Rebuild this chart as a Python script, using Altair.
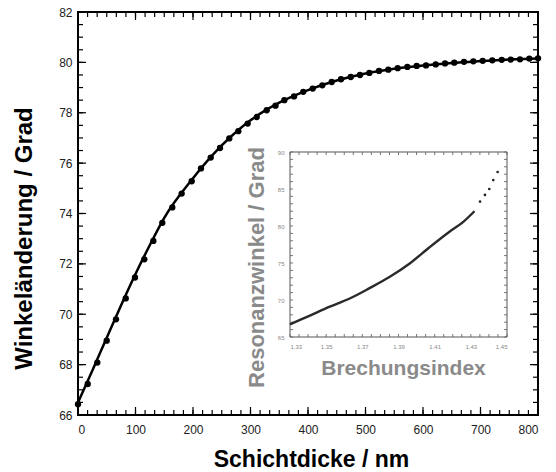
import altair as alt
import pandas as pd

# ---------------- data ----------------
thickness_nm = [0, 16.9, 33.6, 49.9, 66.1, 83.0, 99.1, 115.3, 131.0, 146.6,
                164.0, 180.3, 197.7, 213.9, 230.8, 247.0, 263.1, 278.8, 295.1, 310.8,
                328.2, 343.5, 358.8, 375.7, 391.8, 408.2, 424.9, 441.2, 457.4, 474.3,
                490.4, 506.6, 523.5, 539.7, 556.0, 572.7, 589.0, 605.2, 622.1, 638.3,
                654.4, 671.3, 687.5, 703.8, 720.5, 736.9, 752.5, 768.7, 784.9, 800.0]
angle_deg = [66.43, 67.23, 68.08, 68.95, 69.80, 70.63, 71.46, 72.18, 72.91, 73.63,
             74.24, 74.79, 75.28, 75.79, 76.22, 76.60, 76.98, 77.27, 77.57, 77.83,
             78.10, 78.28, 78.50, 78.65, 78.83, 78.96, 79.09, 79.22, 79.33, 79.42,
             79.50, 79.58, 79.66, 79.71, 79.77, 79.82, 79.86, 79.88, 79.92, 79.96,
             79.99, 80.02, 80.04, 80.06, 80.08, 80.10, 80.11, 80.12, 80.15, 80.16]

fit_nm = [0, 25, 50, 75, 100, 125, 150, 200, 250, 300, 350, 400, 450, 500,
          550, 600, 650, 700, 750, 800]
fit_deg = [66.5, 67.77, 69.07, 70.36, 71.6, 72.75, 73.83, 75.4, 76.7, 77.7, 78.4,
           78.9, 79.28, 79.56, 79.75, 79.88, 79.98, 80.05, 80.11, 80.15]

inset_index = [1.330, 1.341, 1.352, 1.363, 1.374, 1.385, 1.396, 1.407, 1.418, 1.426, 1.432]
inset_angle = [66.7, 67.9, 69.1, 70.2, 71.6, 73.1, 74.9, 77.1, 79.2, 80.6, 82.0]
inset_index_pts = [1.4351, 1.4378, 1.4402, 1.4424, 1.4448]
inset_angle_pts = [83.3, 84.2, 85.0, 86.2, 87.3]

X_DOMAIN = [0, 800]
Y_DOMAIN = [66, 82]
IX_DOMAIN = [1.33, 1.45]
IY_DOMAIN = [65, 90]

x_major = list(range(0, 801, 100))
x_minor = [round(i * 100 / 6, 3) for i in range(49)]
y_major = list(range(66, 83, 2))
y_minor = [66 + 0.5 * i for i in range(33)]
ix_ticks = [round(1.33 + 0.005 * i, 3) for i in range(25)]
iy_ticks = list(range(65, 91))

# ---------------- layout ----------------
W, H = 460, 403
INSET_X_RANGE = [212, 429]
INSET_Y_RANGE = [325, 140]
FONT = "Liberation Sans"
GREY = "#8a8a8a"


def xs():
    return alt.Scale(domain=X_DOMAIN, nice=False, zero=False)


def ys():
    return alt.Scale(domain=Y_DOMAIN, nice=False, zero=False)


def ixs():
    return alt.Scale(domain=IX_DOMAIN, range=INSET_X_RANGE, nice=False, zero=False)


def iys():
    return alt.Scale(domain=IY_DOMAIN, range=INSET_Y_RANGE, nice=False, zero=False)


def edge_rules(values, edge, length_px, xsf, ysf, xdom, ydom, xpx, ypx,
               color="black", width=1.2):
    """Short inward tick rules along one frame edge, drawn through the scales."""
    n = len(values)
    dy = length_px * (ydom[1] - ydom[0]) / ypx
    dx = length_px * (xdom[1] - xdom[0]) / xpx
    if edge in ("bottom", "top"):
        y0 = ydom[0] if edge == "bottom" else ydom[1]
        y1 = y0 + dy if edge == "bottom" else y0 - dy
        df = pd.DataFrame({"x": values, "y": [y0] * n, "y2": [y1] * n})
        return alt.Chart(df).mark_rule(color=color, strokeWidth=width).encode(
            x=alt.X("x:Q", scale=xsf(), axis=None),
            y=alt.Y("y:Q", scale=ysf(), axis=None), y2="y2:Q")
    x0 = xdom[0] if edge == "left" else xdom[1]
    x1 = x0 + dx if edge == "left" else x0 - dx
    df = pd.DataFrame({"x": [x0] * n, "x2": [x1] * n, "y": values})
    return alt.Chart(df).mark_rule(color=color, strokeWidth=width).encode(
        x=alt.X("x:Q", scale=xsf(), axis=None), x2="x2:Q",
        y=alt.Y("y:Q", scale=ysf(), axis=None))


fit_df = pd.DataFrame({"d": fit_nm, "w": fit_deg})
pts_df = pd.DataFrame({"d": thickness_nm, "w": angle_deg})
frame_df = pd.DataFrame({"x": [X_DOMAIN[0]], "x2": [X_DOMAIN[1]],
                         "y": [Y_DOMAIN[0]], "y2": [Y_DOMAIN[1]]})
iframe_df = pd.DataFrame({"x": [IX_DOMAIN[0]], "x2": [IX_DOMAIN[1]],
                          "y": [IY_DOMAIN[0]], "y2": [IY_DOMAIN[1]]})
inset_df = pd.DataFrame({"n": inset_index, "a": inset_angle})
inset_pts_df = pd.DataFrame({"n": inset_index_pts, "a": inset_angle_pts})

# --- main frame with labelled bottom / left axes ---
label_x = alt.Axis(
    orient="bottom", values=x_major, ticks=False, tickSize=0, domain=False, grid=False,
    labelFont=FONT, labelFontSize=12, labelColor="#222", labelPadding=9,
    title="Schichtdicke / nm", titleFont=FONT, titleFontSize=23, titleFontWeight="bold",
    titleColor="black", titleX=233, titleY=44, titleBaseline="middle", titleAlign="center")
label_y = alt.Axis(
    orient="left", values=y_major, ticks=False, tickSize=0, domain=False, grid=False,
    labelFont=FONT, labelFontSize=12, labelColor="#222", labelPadding=6,
    title="Winkeländerung / Grad", titleFont=FONT, titleFontSize=24, titleFontWeight="bold",
    titleColor="black", titleX=-54, titleY=226, titleBaseline="middle", titleAlign="center",
    titleAngle=270)

l_frame = alt.Chart(frame_df).mark_rect(fillOpacity=0, stroke="black", strokeWidth=2).encode(
    x=alt.X("x:Q", scale=xs(), axis=label_x), x2="x2:Q",
    y=alt.Y("y:Q", scale=ys(), axis=label_y), y2="y2:Q",
)

main_ticks = []
for edge in ("bottom", "top"):
    main_ticks.append(edge_rules(x_minor, edge, 5, xs, ys, X_DOMAIN, Y_DOMAIN, W, H))
    main_ticks.append(edge_rules(x_major, edge, 8, xs, ys, X_DOMAIN, Y_DOMAIN, W, H))
for edge in ("left", "right"):
    main_ticks.append(edge_rules(y_minor, edge, 5, xs, ys, X_DOMAIN, Y_DOMAIN, W, H))
    main_ticks.append(edge_rules(y_major, edge, 8, xs, ys, X_DOMAIN, Y_DOMAIN, W, H))

l_fit = alt.Chart(fit_df).mark_line(color="black", strokeWidth=2.5, interpolate="monotone").encode(
    x=alt.X("d:Q", scale=xs(), axis=None),
    y=alt.Y("w:Q", scale=ys(), axis=None),
)
l_pts = alt.Chart(pts_df).mark_circle(color="black", size=40, opacity=1).encode(
    x=alt.X("d:Q", scale=xs(), axis=None),
    y=alt.Y("w:Q", scale=ys(), axis=None),
)

# ---------------- inset ----------------
IC = "#666"
IW = INSET_X_RANGE[1] - INSET_X_RANGE[0]
IH = INSET_Y_RANGE[0] - INSET_Y_RANGE[1]
l_iframe = alt.Chart(iframe_df).mark_rect(fill="white", stroke="#555", strokeWidth=1).encode(
    x=alt.X("x:Q", scale=ixs(), axis=None), x2="x2:Q",
    y=alt.Y("y:Q", scale=iys(), axis=None), y2="y2:Q",
)
inset_ticks = [
    edge_rules(ix_ticks, "bottom", 3, ixs, iys, IX_DOMAIN, IY_DOMAIN, IW, IH, IC, 0.9),
    edge_rules(ix_ticks, "top", 3, ixs, iys, IX_DOMAIN, IY_DOMAIN, IW, IH, IC, 0.9),
    edge_rules(iy_ticks, "left", 3, ixs, iys, IX_DOMAIN, IY_DOMAIN, IW, IH, IC, 0.9),
    edge_rules(iy_ticks, "right", 3, ixs, iys, IX_DOMAIN, IY_DOMAIN, IW, IH, IC, 0.9),
]

l_inset = alt.Chart(inset_df).mark_line(color="#2a2a2a", strokeWidth=2.4, interpolate="monotone").encode(
    x=alt.X("n:Q", scale=ixs(), axis=alt.Axis(
        orient="bottom", offset=-78, values=ix_ticks, ticks=False, tickSize=0,
        domain=False, grid=False,
        labelExpr="round(datum.value*1000) % 20 == 10 ? format(datum.value, '.2f') : ''",
        labelFont=FONT, labelFontSize=6, labelColor="#888", labelPadding=6,
        title="Brechungsindex", titleFont=FONT, titleFontSize=21, titleFontWeight="bold",
        titleColor=GREY, titleX=325, titleY=31, titleBaseline="middle", titleAlign="center")),
    y=alt.Y("a:Q", scale=iys(), axis=alt.Axis(
        orient="left", offset=-212, values=iy_ticks, ticks=False, tickSize=0,
        domain=False, grid=False,
        labelExpr="datum.value % 5 == 0 ? datum.label : ''",
        labelFont=FONT, labelFontSize=6, labelColor="#888", labelPadding=6,
        title="Resonanzwinkel / Grad", titleFont=FONT, titleFontSize=22, titleFontWeight="bold",
        titleColor=GREY, titleX=-34, titleY=255, titleBaseline="middle", titleAlign="center",
        titleAngle=270)),
)
l_inset_pts = alt.Chart(inset_pts_df).mark_circle(color="#222", size=7, opacity=1).encode(
    x=alt.X("n:Q", scale=ixs(), axis=None),
    y=alt.Y("a:Q", scale=iys(), axis=None),
)

chart = alt.layer(
    l_frame, l_iframe, *main_ticks, *inset_ticks, l_inset, l_inset_pts, l_fit, l_pts
).resolve_scale(
    x="independent", y="independent"
).properties(
    width=W, height=H,
    padding={"left": 78, "top": 12, "right": 18, "bottom": 57},
    autosize=alt.AutoSizeParams(type="none"),
    background="white",
)

chart.save("out.html", embed_options={"renderer": "svg", "actions": False})
